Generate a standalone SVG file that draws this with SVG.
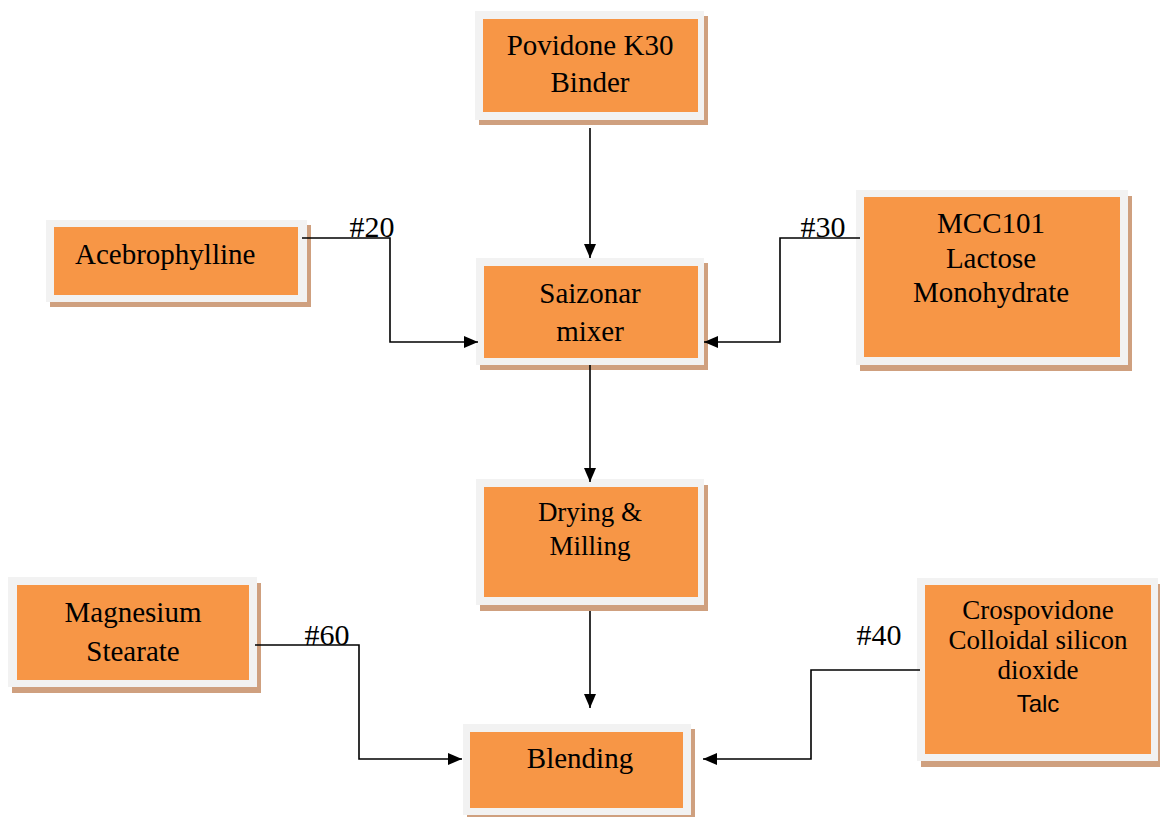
<svg xmlns="http://www.w3.org/2000/svg" width="1160" height="817" viewBox="0 0 1160 817">
<defs>
<marker id="arr" viewBox="0 0 14 12" refX="14" refY="6" markerWidth="14" markerHeight="12" markerUnits="userSpaceOnUse" orient="auto">
<path d="M0,0 L14,6 L0,12 z" fill="#000"/>
</marker>
<style>
.sh{fill:#cfa07f}
.fr{fill:#f2f2f2}
.or{fill:#f79646}
.t{font-family:"Liberation Serif","Times New Roman",serif;font-size:29px;fill:#000;text-anchor:middle}
.s{font-family:"Liberation Sans",Arial,sans-serif;font-size:24px;fill:#000;text-anchor:middle}
.c{fill:none;stroke:#000;stroke-width:1.6}
</style>
</defs>
<rect width="1160" height="817" fill="#fff"/>
<g id="povidone">
<rect class="sh" x="479" y="16" width="229" height="109"/>
<rect class="fr" x="475" y="11" width="229" height="109"/>
<rect class="or" x="483" y="19" width="215" height="93"/>
<text class="t" x="590" y="55">Povidone K30</text>
<text class="t" x="590" y="92">Binder</text>
</g>
<g id="acebrophylline">
<rect class="sh" x="50" y="225" width="261" height="82"/>
<rect class="fr" x="46" y="220" width="261" height="82"/>
<rect class="or" x="54" y="227" width="244" height="68"/>
<text class="t" x="75" y="264" style="text-anchor:start">Acebrophylline</text>
</g>
<g id="saizonar">
<rect class="sh" x="480" y="263" width="228" height="107"/>
<rect class="fr" x="476" y="258" width="228" height="107"/>
<rect class="or" x="484" y="266" width="214" height="92"/>
<text class="t" x="590" y="303">Saizonar</text>
<text class="t" x="590" y="341">mixer</text>
</g>
<g id="mcc">
<rect class="sh" x="860" y="196" width="272" height="175"/>
<rect class="fr" x="856" y="190" width="272" height="175"/>
<rect class="or" x="864" y="197" width="256" height="160"/>
<text class="t" x="991" y="233">MCC101</text>
<text class="t" x="991" y="268">Lactose</text>
<text class="t" x="991" y="302">Monohydrate</text>
</g>
<g id="drying">
<rect class="sh" x="480" y="485" width="228" height="126"/>
<rect class="fr" x="476" y="479" width="228" height="126"/>
<rect class="or" x="484" y="487" width="214" height="110"/>
<text class="t" x="590" y="521" style="font-size:27px">Drying &amp;</text>
<text class="t" x="590" y="555" style="font-size:27px">Milling</text>
</g>
<g id="magnesium">
<rect class="sh" x="12" y="583" width="249" height="110"/>
<rect class="fr" x="8" y="577" width="249" height="110"/>
<rect class="or" x="17" y="585" width="232" height="95"/>
<text class="t" x="133" y="622">Magnesium</text>
<text class="t" x="133" y="661">Stearate</text>
</g>
<g id="crospovidone">
<rect class="sh" x="921" y="584" width="241" height="183"/>
<rect class="fr" x="917" y="578" width="241" height="183"/>
<rect class="or" x="925" y="585" width="226" height="169"/>
<text class="t" x="1038" y="619" style="font-size:27px">Crospovidone</text>
<text class="t" x="1038" y="649" style="font-size:27px">Colloidal silicon</text>
<text class="t" x="1038" y="679" style="font-size:27px">dioxide</text>
<text class="s" x="1038" y="712">Talc</text>
</g>
<g id="blending">
<rect class="sh" x="467" y="729" width="228" height="91"/>
<rect class="fr" x="463" y="724" width="228" height="91"/>
<rect class="or" x="470" y="732" width="213" height="76"/>
<text class="t" x="580" y="768">Blending</text>
</g>
<g id="connectors">
<path class="c" d="M590,128 L590,258" marker-end="url(#arr)"/>
<path class="c" d="M590,365 L590,482" marker-end="url(#arr)"/>
<path class="c" d="M590,611 L590,708" marker-end="url(#arr)"/>
<path class="c" d="M302,238 L390,238 L390,342 L478,342" marker-end="url(#arr)"/>
<path class="c" d="M860,238 L780,238 L780,342 L704,342" marker-end="url(#arr)"/>
<path class="c" d="M255,645 L359,645 L359,759 L462,759" marker-end="url(#arr)"/>
<path class="c" d="M920,670 L811,670 L811,759 L703,759" marker-end="url(#arr)"/>
<text class="t" x="372" y="237" style="font-size:30px">#20</text>
<text class="t" x="823" y="237" style="font-size:30px">#30</text>
<text class="t" x="327" y="645" style="font-size:30px">#60</text>
<text class="t" x="879" y="645" style="font-size:30px">#40</text>
</g>
</svg>
